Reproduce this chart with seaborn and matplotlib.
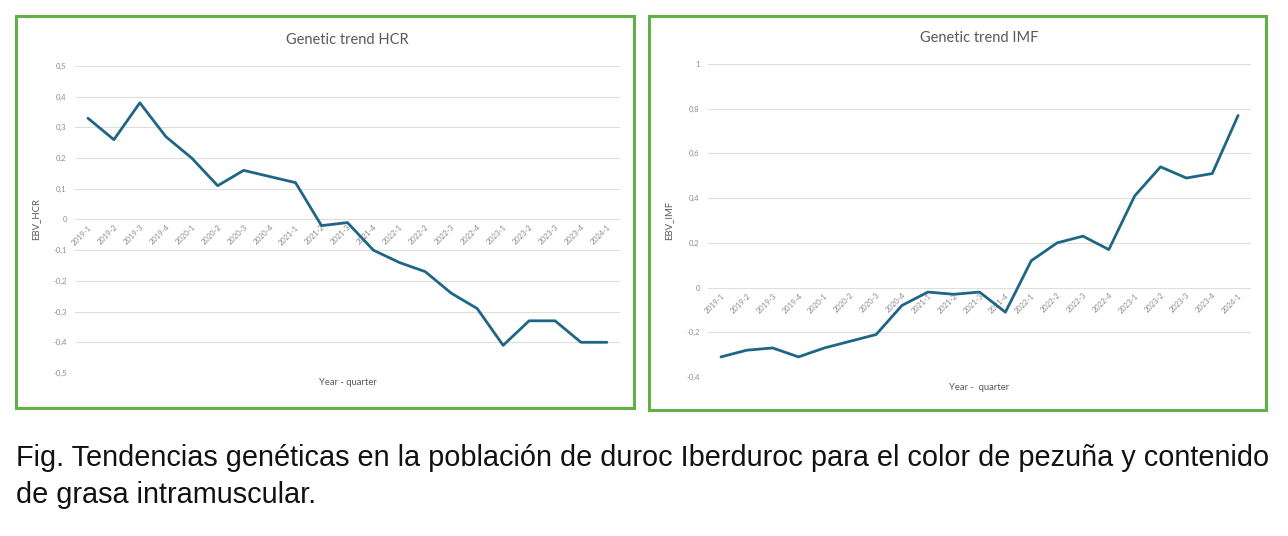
import pandas as pd
import seaborn as sns
import matplotlib.pyplot as plt
from matplotlib.patches import Rectangle
from matplotlib.ticker import FuncFormatter

# data
quarters = [
    "2019-1", "2019-2", "2019-3", "2019-4",
    "2020-1", "2020-2", "2020-3", "2020-4",
    "2021-1", "2021-2", "2021-3", "2021-4",
    "2022-1", "2022-2", "2022-3", "2022-4",
    "2023-1", "2023-2", "2023-3", "2023-4",
    "2024-1",
]
ebv_hcr = [0.33, 0.26, 0.38, 0.27, 0.20, 0.11, 0.16, 0.14, 0.12, -0.02, -0.01,
           -0.10, -0.14, -0.17, -0.24, -0.29, -0.41, -0.33, -0.33, -0.40, -0.40]
ebv_imf = [-0.31, -0.28, -0.27, -0.31, -0.27, -0.24, -0.21, -0.08, -0.02, -0.03, -0.02,
           -0.11, 0.12, 0.20, 0.23, 0.17, 0.41, 0.54, 0.49, 0.51, 0.77]
hcr_ticks = [-0.5, -0.4, -0.3, -0.2, -0.1, 0, 0.1, 0.2, 0.3, 0.4, 0.5]
imf_ticks = [-0.4, -0.2, 0, 0.2, 0.4, 0.6, 0.8, 1]

caption_lines = [
    "Fig. Tendencias genéticas en la población de duroc Iberduroc para el color de pezuña y contenido",
    "de grasa intramuscular.",
]

# esthetics
sns.set_theme(style="white")
plt.rcParams["font.family"] = ["Lato", "DejaVu Sans"]
line_color = "#1F6685"
grid_color = "#DEDEDE"
label_grey = "#8C8C8C"
title_grey = "#595959"
frame_green = "#63B046"

df = pd.DataFrame({"Quarter": quarters, "HCR": ebv_hcr, "IMF": ebv_imf})


def comma(v, pos):
    v = round(v, 2)
    if v == 0:
        return "0"
    return f"{v:g}".replace(".", ",")


fig = plt.figure(figsize=(12.88, 5.36), dpi=100)

panels = [
    # trait, ylabel, xlabel, ticks, axes rect, frame rect, xlabel y
    ("HCR", "EBV_HCR", "Year - quarter", hcr_ticks,
     [0.0582, 0.3041, 0.4231, 0.5728], (0.0124, 0.2388, 0.4798, 0.7313), -0.016),
    ("IMF", "EBV_IMF", "Year -  quarter", imf_ticks,
     [0.5497, 0.2966, 0.4216, 0.5840], (0.5039, 0.2351, 0.4790, 0.7351), -0.019),
]

for trait, ylab, xlab, ticks, rect, frame, xlab_y in panels:
    fig.add_artist(Rectangle(frame[:2], frame[2], frame[3], transform=fig.transFigure,
                             fill=False, edgecolor=frame_green, linewidth=2.2))
    ax = fig.add_axes(rect)
    sns.lineplot(data=df, x="Quarter", y=trait, ax=ax, color=line_color,
                 linewidth=2.0, sort=False)

    ax.set_xlim(-0.5, len(quarters) - 0.5)
    ax.set_ylim(ticks[0], ticks[-1])
    ax.set_yticks(ticks)
    ax.yaxis.set_major_formatter(FuncFormatter(comma))
    ax.grid(axis="y", color=grid_color, linewidth=0.8)
    ax.grid(axis="x", visible=False)
    ax.set_axisbelow(True)
    for side in ["left", "right", "top"]:
        ax.spines[side].set_visible(False)
    # category labels sit on the zero line, like Excel does
    ax.spines["bottom"].set_position(("data", 0))
    ax.spines["bottom"].set_color("none")

    ax.tick_params(axis="y", length=0, pad=6, labelsize=5.5, labelcolor=label_grey)
    ax.tick_params(axis="x", length=0, pad=3, labelsize=5.5, labelcolor=label_grey)
    for lbl in ax.get_xticklabels():
        lbl.set_rotation(45)
        lbl.set_ha("right")
        lbl.set_va("top")
        lbl.set_rotation_mode("anchor")

    ax.set_title(f"Genetic trend {trait}", color=title_grey, fontsize=10.5, pad=16)
    ax.set_ylabel(ylab, color=title_grey, fontsize=6.8)
    ax.yaxis.set_label_coords(-0.064, 0.5)
    ax.set_xlabel(xlab, color=title_grey, fontsize=6.8)
    ax.xaxis.set_label_coords(0.5, xlab_y)

for i, line in enumerate(caption_lines):
    fig.text(16 / 1288, 1 - (466 + 37 * i) / 536, line, fontsize=20.8, color="#111111",
             family=["Liberation Sans", "DejaVu Sans"], va="baseline", ha="left")

fig.savefig("out.png", dpi=100, facecolor="white")
plt.close()
